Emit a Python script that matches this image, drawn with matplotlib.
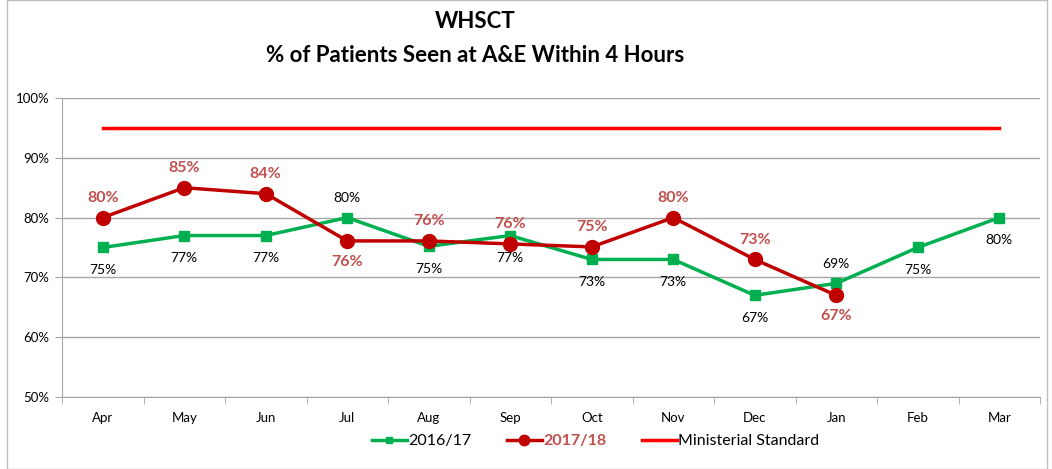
import matplotlib.pyplot as plt
from matplotlib.patches import Rectangle

plt.rcParams['font.family'] = ['Lato', 'DejaVu Sans']

months = ['Apr', 'May', 'Jun', 'Jul', 'Aug', 'Sep', 'Oct', 'Nov', 'Dec', 'Jan', 'Feb', 'Mar']
y1617 = [75, 77, 77, 80, 75.2, 77, 73, 73, 67, 69, 75, 80]
y1718 = [80, 85, 84, 76.1, 76.1, 75.6, 75.1, 80, 73, 67]
standard = [95] * 12

# label placement: True = above the point
above_1617 = [False, False, False, True, False, False, False, False, False, True, False, False]
above_1718 = [True, True, True, False, True, True, True, True, True, False]

green = '#00B050'
dred = '#C00000'
lblred = '#C0504D'
grid = '#A6A6A6'

fig = plt.figure(figsize=(10.52, 4.69), dpi=100)
ax = fig.add_axes([62 / 1052, 1 - 397 / 469, 978 / 1052, 299 / 469])

x = list(range(len(months)))
l1, = ax.plot(x, y1617, color=green, lw=2.5, marker='s', ms=6.5, label='2016/17')
l2, = ax.plot(x[:len(y1718)], y1718, color=dred, lw=2.5, marker='o', ms=10, label='2017/18')
l3, = ax.plot(x, standard, color='#FF0000', lw=2.5, label='Ministerial Standard')

for i, v in enumerate(y1617):
    dy = 14 if above_1617[i] else -16
    ax.annotate(f'{round(v)}%', (i, v), xytext=(0, dy), textcoords='offset points',
                ha='center', va='center', fontsize=10, color='black')
for i, v in enumerate(y1718):
    dy = 14 if above_1718[i] else -15
    ax.annotate(f'{round(v)}%', (i, v), xytext=(0, dy), textcoords='offset points',
                ha='center', va='center', fontsize=11.5, fontweight='bold', color=lblred)

ax.set_xlim(-0.5, 11.5)
ax.set_ylim(50, 100)
ax.set_yticks(range(50, 101, 10))
ax.set_yticklabels([f'{t}%' for t in range(50, 101, 10)], fontsize=9.5)
ax.set_xticks(x)
ax.set_xticklabels(months, fontsize=9.5)
ax.set_xticks([i + 0.5 for i in range(-1, 12)], minor=True)
ax.tick_params(axis='x', which='major', length=0, pad=11)
ax.tick_params(axis='x', which='minor', length=5, color=grid)
ax.tick_params(axis='y', length=5, color=grid, pad=4)
ax.grid(axis='y', color=grid, lw=1)
ax.set_axisbelow(True)
for s in ['top', 'right']:
    ax.spines[s].set_visible(False)
for s in ['left', 'bottom']:
    ax.spines[s].set_color(grid)

fig.text(0.4515, 1 - 21 / 469, 'WHSCT', ha='center', va='center', fontsize=16, fontweight='bold')
fig.text(0.4515, 1 - 55 / 469, '% of Patients Seen at A&E Within 4 Hours', ha='center',
         va='center', fontsize=16, fontweight='bold')

leg = fig.legend(handles=[l1, l2, l3], loc='center', bbox_to_anchor=(0.566, 1 - 441 / 469),
                 ncol=3, frameon=False, fontsize=11.5, handlelength=2.2, columnspacing=2.2,
                 handletextpad=0.1, markerscale=0.75)
leg.get_texts()[1].set_color(lblred)
leg.get_texts()[1].set_fontweight('bold')

fig.add_artist(Rectangle((7 / 1052, 0), 1040 / 1052, 1, transform=fig.transFigure,
                         fill=False, edgecolor='#BFBFBF', lw=1))

fig.savefig('out.png', dpi=100)
